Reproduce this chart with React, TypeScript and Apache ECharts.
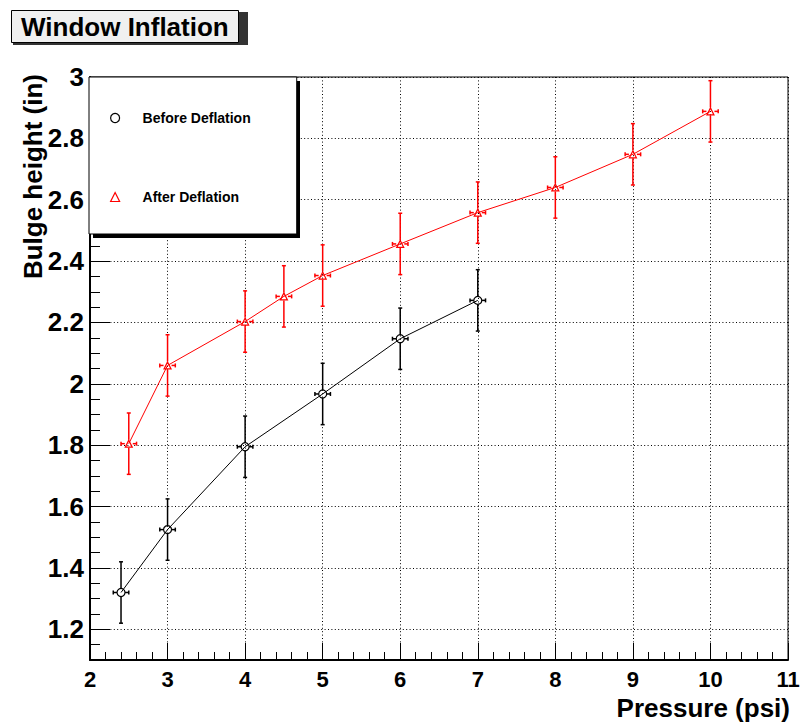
import React, { useEffect, useRef } from 'react';
import * as echarts from 'echarts';

// ---- Data ----
const beforeX = [2.4, 3, 4, 5, 6, 7];
const beforeY = [1.32, 1.525, 1.795, 1.967, 2.147, 2.272];
const beforeEX = [0.1, 0.1, 0.1, 0.1, 0.1, 0.1];
const beforeEY = [0.1, 0.1, 0.1, 0.1, 0.1, 0.1];

const afterX = [2.5, 3, 4, 4.5, 5, 6, 7, 8, 9, 10];
const afterY = [1.805, 2.06, 2.203, 2.285, 2.353, 2.456, 2.558, 2.64, 2.748, 2.888];
const afterEX = [0.1, 0.1, 0.1, 0.1, 0.1, 0.1, 0.1, 0.1, 0.1, 0.1];
const afterEY = [0.1, 0.1, 0.1, 0.1, 0.1, 0.1, 0.1, 0.1, 0.1, 0.1];

const xMin = 2;
const xMax = 11;
const yMin = 1.1;
const yMax = 3;

const titleText = 'Window Inflation';
const xTitle = 'Pressure (psi)';
const yTitle = 'Bulge height (in)';
const beforeName = 'Before Deflation';
const afterName = 'After Deflation';

const FONT = '"Liberation Sans", Arial, Helvetica, sans-serif';

function errorSeries(name: string, xs: number[], ys: number[], exs: number[], eys: number[], color: string) {
  return {
    type: 'custom',
    name: name + ' errors',
    data: xs.map((x, i) => [x, ys[i], exs[i], eys[i]]),
    encode: { x: 0, y: 1 },
    silent: true,
    z: 3,
    clip: false,
    renderItem: (params: any, api: any) => {
      const x = api.value(0);
      const y = api.value(1);
      const ex = api.value(2);
      const ey = api.value(3);
      const c = api.coord([x, y]);
      const top = api.coord([x, y + ey]);
      const bot = api.coord([x, y - ey]);
      const left = api.coord([x - ex, y]);
      const right = api.coord([x + ex, y]);
      const gap = 4;
      const cap = 2;
      const style = { stroke: color, lineWidth: 1.5, fill: null };
      const ln = (x1: number, y1: number, x2: number, y2: number) => ({
        type: 'line',
        shape: { x1, y1, x2, y2 },
        style,
      });
      return {
        type: 'group',
        children: [
          ln(c[0], top[1], c[0], c[1] - gap),
          ln(c[0], c[1] + gap, c[0], bot[1]),
          ln(c[0] - cap, top[1], c[0] + cap, top[1]),
          ln(c[0] - cap, bot[1], c[0] + cap, bot[1]),
          ln(left[0], c[1], c[0] - gap, c[1]),
          ln(c[0] + gap, c[1], right[0], c[1]),
          ln(left[0], c[1] - cap, left[0], c[1] + cap),
          ln(right[0], c[1] - cap, right[0], c[1] + cap),
        ],
      };
    },
  };
}

export default function App() {
  const ref = useRef<HTMLDivElement>(null);

  useEffect(() => {
    if (!ref.current) return;
    const chart = echarts.init(ref.current, null, { renderer: 'svg' });
    const dotted = { color: '#000', width: 1, type: [1, 2.4] as any };

    const option: any = {
      animation: false,
      backgroundColor: '#fff',
      title: {
        text: titleText,
        left: 11,
        top: 10,
        padding: [2, 10, 2, 10],
        backgroundColor: '#f0f0f0',
        borderColor: '#000',
        borderWidth: 1,
        textStyle: { fontFamily: FONT, fontWeight: 'bold', fontSize: 26, color: '#000', lineHeight: 29 },
        z: 10,
      },
      legend: {
        orient: 'vertical',
        left: 89,
        top: 77,
        padding: [33, 46, 29, 21],
        itemWidth: 9,
        itemHeight: 9,
        itemGap: 63,
        backgroundColor: '#fff',
        borderColor: '#000',
        borderWidth: 1,
        selectedMode: false,
        textStyle: {
          fontFamily: FONT,
          fontWeight: 'bold',
          fontSize: 14,
          color: '#000',
          lineHeight: 16,
          padding: [0, 0, 0, 18],
        },
        data: [
          { name: beforeName, icon: 'circle', itemStyle: { color: 'rgba(255,255,255,0)', borderColor: '#000', borderWidth: 1.2 } },
          { name: afterName, icon: 'triangle', itemStyle: { color: 'rgba(255,255,255,0)', borderColor: '#ff0000', borderWidth: 1.2 } },
        ],
        z: 10,
      },
      grid: {
        left: 90,
        top: 77,
        right: 16,
        bottom: 62,
        show: true,
        borderColor: '#000',
        borderWidth: 1,
        backgroundColor: 'rgba(0,0,0,0)',
      },
      xAxis: {
        type: 'value',
        min: xMin,
        max: xMax,
        interval: 1,
        axisLine: { show: true, onZero: false, lineStyle: { color: '#000', width: 2 } },
        axisTick: { show: true, inside: true, length: 17, lineStyle: { color: '#000', width: 1 } },
        minorTick: { show: true, splitNumber: 5, length: 8, lineStyle: { color: '#000', width: 1 } },
        axisLabel: { show: true, margin: 8, color: '#000', fontFamily: FONT, fontWeight: 'bold', fontSize: 22 },
        splitLine: { show: true, lineStyle: dotted },
        minorSplitLine: { show: false },
      },
      yAxis: {
        type: 'value',
        min: yMin,
        max: yMax,
        splitNumber: 10,
        axisLine: { show: true, onZero: false, lineStyle: { color: '#000', width: 2 } },
        axisTick: { show: true, inside: true, length: 20, lineStyle: { color: '#000', width: 1 } },
        minorTick: { show: true, splitNumber: 4, length: 10, lineStyle: { color: '#000', width: 1 } },
        axisLabel: {
          show: true,
          margin: 6,
          showMinLabel: false,
          color: '#000',
          fontFamily: FONT,
          fontWeight: 'bold',
          fontSize: 26,
          formatter: (v: number) => String(Number(v.toFixed(2))),
        },
        splitLine: { show: true, lineStyle: dotted },
        minorSplitLine: { show: false },
      },
      graphic: [
        // title box shadow
        { type: 'rect', z: 9, silent: true, shape: { x: 13, y: 12, width: 235, height: 33 }, style: { fill: '#333' } },
        // legend box shadow
        { type: 'rect', z: 9, silent: true, shape: { x: 93, y: 81, width: 207, height: 157 }, style: { fill: '#000' } },
        {
          type: 'text',
          silent: true,
          x: 790,
          y: 708,
          style: { text: xTitle, align: 'right', verticalAlign: 'middle', fontFamily: FONT, fontWeight: 'bold', fontSize: 26, fill: '#000' },
        },
        {
          type: 'text',
          silent: true,
          x: 33,
          y: 74,
          rotation: Math.PI / 2,
          style: { text: yTitle, align: 'right', verticalAlign: 'middle', fontFamily: FONT, fontWeight: 'bold', fontSize: 26, fill: '#000' },
        },
      ],
      series: [
        {
          type: 'line',
          name: beforeName,
          data: beforeX.map((x, i) => [x, beforeY[i]]),
          symbol: 'circle',
          symbolSize: 8,
          itemStyle: { color: 'rgba(255,255,255,0)', borderColor: '#000', borderWidth: 1.2 },
          lineStyle: { color: '#000', width: 1 },
          z: 4,
          silent: true,
        },
        {
          type: 'line',
          name: afterName,
          data: afterX.map((x, i) => [x, afterY[i]]),
          symbol: 'triangle',
          symbolSize: 7,
          itemStyle: { color: 'rgba(255,255,255,0)', borderColor: '#ff0000', borderWidth: 1.2 },
          lineStyle: { color: '#ff0000', width: 1 },
          z: 4,
          silent: true,
        },
        errorSeries(beforeName, beforeX, beforeY, beforeEX, beforeEY, '#000'),
        errorSeries(afterName, afterX, afterY, afterEX, afterEY, '#ff0000'),
      ],
    };

    chart.setOption(option);
    return () => {
      chart.dispose();
    };
  }, []);

  return (
    <div
      ref={ref}
      style={{ position: 'fixed', left: 0, top: 0, width: 804, height: 722, background: '#fff' }}
    />
  );
}
